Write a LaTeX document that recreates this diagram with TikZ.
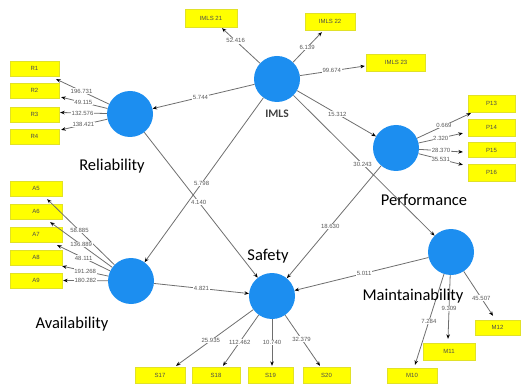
\documentclass[tikz,border=0pt]{standalone}
\usepackage{fontspec}
\setmainfont{Carlito}
\newfontfamily\smallfont{Liberation Sans}
\usetikzlibrary{arrows.meta}
\definecolor{lvblue}{RGB}{28,142,240}
\definecolor{indyellow}{RGB}{255,255,0}
\definecolor{indedge}{RGB}{225,225,40}
\definecolor{linkgray}{RGB}{110,110,110}
\begin{document}
\begin{tikzpicture}[x=1pt,y=-1pt,
  construct/.style={circle,fill=lvblue,minimum size=46pt,inner sep=0pt},
  indicator/.style={rectangle,fill=indyellow,draw=indedge,line width=0.3pt,
    minimum width=50pt,minimum height=16pt,inner sep=0pt,
    font=\smallfont\fontsize{6}{7}\selectfont,text=black!70},
  link/.style={draw=linkgray,line width=0.8pt,-{Stealth[length=4.5pt,width=3.6pt,black]}},
  coef/.style={fill=white,inner sep=0.6pt,font=\smallfont\fontsize{6}{7}\selectfont,text=black!65},
  title/.style={font=\fontsize{16.5}{18}\selectfont,text=black,inner sep=1pt}
]
\useasboundingbox (0,0) rectangle (521,387);

% latent variables
\node[construct] (imls)  at (277,79)  {};
\node[construct] (rel)   at (130,114) {};
\node[construct] (perf)  at (396,148) {};
\node[construct] (avail) at (131,281) {};
\node[construct] (safe)  at (272,296) {};
\node[construct] (maint) at (451,252) {};

% indicators
\node[indicator,minimum width=52pt,minimum height=18pt] (i21) at (211,18)   {IMLS 21};
\node[indicator,minimum height=17pt] (i22) at (330,21.5) {IMLS 22};
\node[indicator,minimum width=59pt,minimum height=17pt] (i23) at (396,62.5) {IMLS 23};

\node[indicator,minimum width=49pt,minimum height=15pt] (r1) at (34.5,68.5)  {R1};
\node[indicator,minimum width=49pt,minimum height=15pt] (r2) at (34.5,90.5)  {R2};
\node[indicator,minimum width=49pt,minimum height=15pt] (r3) at (34.5,114.5) {R3};
\node[indicator,minimum width=49pt,minimum height=15pt] (r4) at (34.5,136.5) {R4};

\node[indicator,minimum width=52pt,minimum height=15pt] (a5) at (36,188.5) {A5};
\node[indicator,minimum width=52pt,minimum height=15pt] (a6) at (36,211.5) {A6};
\node[indicator,minimum width=52pt,minimum height=15pt] (a7) at (36,234.5) {A7};
\node[indicator,minimum width=52pt,minimum height=15pt] (a8) at (36,257.5) {A8};
\node[indicator,minimum width=52pt,minimum height=15pt] (a9) at (36,280.5) {A9};

\node[indicator,minimum width=47pt,minimum height=17pt] (p13) at (491.5,103.5) {P13};
\node[indicator,minimum width=47pt,minimum height=17pt] (p14) at (491.5,127.5) {P14};
\node[indicator,minimum width=47pt,minimum height=15pt] (p15) at (491.5,150)   {P15};
\node[indicator,minimum width=47pt,minimum height=17pt] (p16) at (491.5,172.5) {P16};

\node[indicator,minimum height=15pt] (m10) at (412,375.5) {M10};
\node[indicator,minimum width=52pt,minimum height=17pt] (m11) at (449,351.5) {M11};
\node[indicator,minimum width=45pt,minimum height=15pt] (m12) at (497.5,327.5) {M12};

\node[indicator] (s17) at (160,375)   {S17};
\node[indicator,minimum width=48pt] (s18) at (216,375)   {S18};
\node[indicator,minimum width=45pt] (s19) at (270.5,375) {S19};
\node[indicator,minimum width=47pt] (s20) at (326.5,375) {S20};

% outer loadings / weights
\draw[link] (imls) -- node[coef,pos=0.64] (c21) {52.416} ([shift={(11,1)}]i21.south);
\draw[link] (imls) -- node[coef,pos=0.49] (c22) {6.139}  ([shift={(17,2)}]i22.south west);
\draw[link] (imls) -- node[coef,pos=0.49] (c23) {99.674} ([shift={(-1.5,3.5)}]i23.west);

\draw[link] (rel) -- node[coef,pos=0.52] (cr1) {196.731} ([shift={(-3,3)}]r1.south east);
\draw[link] (rel) -- node[coef,pos=0.52] (cr2) {49.115}  ([shift={(2,-1)}]r2.south east);
\draw[link] (rel) -- node[coef,pos=0.52] (cr3) {132.576} ([shift={(1,-2)}]r3.east);
\draw[link] (rel) -- node[coef,pos=0.52] (cr4) {138.421} ([shift={(2,1)}]r4.north east);

\draw[link] (avail) -- node[coef,pos=0.52] (ca5) {58.885}  ([shift={(-15,3)}]a5.south east);
\draw[link] (avail) -- node[coef,pos=0.5]  (ca6) {136.889} ([shift={(-12,3)}]a6.south east);
\draw[link] (avail) -- node[coef,pos=0.5]  (ca7) {48.111}  ([shift={(-5,3)}]a7.south east);
\draw[link] (avail) -- node[coef,pos=0.5]  (ca8) {191.268} ([shift={(0,1)}]a8.south east);
\draw[link] (avail) -- node[coef,pos=0.5]  (ca9) {180.282} ([shift={(1,0)}]a9.east);

\draw[link] (perf) -- node[coef,pos=0.5] (cp13) {0.669}  ([shift={(3,1)}]p13.south west);
\draw[link] (perf) -- node[coef,pos=0.5] (cp14) {2.320}  ([shift={(-5,-3)}]p14.south west);
\draw[link] (perf) -- node[coef,pos=0.5] (cp15) {28.370} ([shift={(-5,2)}]p15.west);
\draw[link] (perf) -- node[coef,pos=0.5] (cp16) {35.531} ([shift={(-5,1)}]p16.north west);

\draw[link] (safe) -- node[coef,pos=0.55] (cs17) {25.935}  ([shift={(16,-1)}]s17.north);
\draw[link] (safe) -- node[coef,pos=0.53] (cs18) {112.462} ([shift={(7,-1)}]s18.north);
\draw[link] (safe) -- node[coef,pos=0.5]  (cs19) {10.740}  ([shift={(1.5,-1)}]s19.north);
\draw[link] (safe) -- node[coef,pos=0.47] (cs20) {32.379}  ([shift={(-6.5,-1)}]s20.north);

\draw[link] (maint) -- node[coef,pos=0.52] (cm10) {7.284}  ([shift={(3,-3)}]m10.north);
\draw[link] (maint) -- node[coef,pos=0.52] (cm11) {9.309}  ([shift={(-1,-4)}]m11.north);
\draw[link] (maint) -- node[coef,pos=0.6]  (cm12) {45.507} ([shift={(-4.5,-4)}]m12.north);

% structural paths
\draw[link] (imls) -- node[coef,pos=0.53] (k1) {5.744}  (rel);
\draw[link] (imls) -- node[coef,pos=0.51] (k2) {15.312} (perf);
\draw[link] (imls) -- node[coef,pos=0.49] (k3) {30.243} (maint);
\draw[link] (imls) -- node[coef,pos=0.52] (k4) {5.798}  (avail);
\draw[link] (rel)  -- node[coef,pos=0.48] (k5) {4.140}  (safe);
\draw[link] (perf) -- node[coef,pos=0.54] (k6) {18.630} (safe);
\draw[link] (avail) -- node[coef,pos=0.5] (k7) {4.821}  (safe);
\draw[link] (maint) -- node[coef,pos=0.48] (k8) {5.011} (safe);

% construct names
\node[font=\bfseries\fontsize{11.5}{13}\selectfont,text=black!75] (timls) at (277,114) {IMLS};
\node[title,fill=white] (trel) at (112,166) {Reliability};
\node[title] (tperf)  at (424,200) {Performance};
\node[title] (tavail) at (72,324)  {Availability};
\node[title] (tsafe)  at (268,256) {Safety};
\node[title] (tmaint) at (413,296) {Maintainability};
\end{tikzpicture}
\end{document}
